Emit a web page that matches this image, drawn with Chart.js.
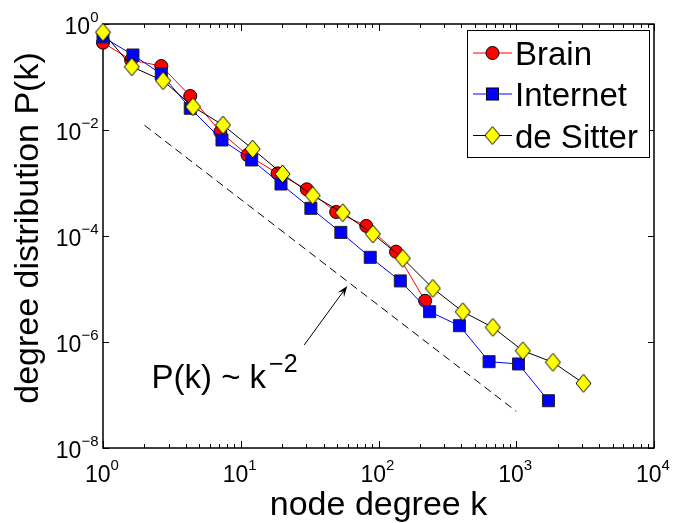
<!DOCTYPE html>
<html>
<head>
<meta charset="utf-8">
<script src="https://cdn.jsdelivr.net/npm/chart.js@4.4.0/dist/chart.umd.min.js"></script>
<style>
  html, body { margin: 0; padding: 0; background: #fff; }
  #wrap { width: 675px; height: 523px; }
</style>
</head>
<body>
<div id="wrap"><canvas id="chart"></canvas></div>
<script>
// log-binned degree k and P(k)
const brainK = [1, 1.60, 2.65, 4.30, 7.11, 11.2, 18.5, 30.2, 49.3, 81.5, 134, 218];
const brainP = [0.444, 0.209, 0.161, 0.0438, 0.00917, 0.00337, 0.00152, 7.6e-4, 2.84e-4, 1.55e-4, 5.06e-5, 6.0e-6];

const internetK = [1, 1.65, 2.65, 4.30, 7.31, 12.0, 19.6, 32.3, 53.3, 87.1, 144, 235, 387, 635, 1038, 1713];
const internetP = [0.568, 0.260, 0.114, 0.0257, 0.00648, 0.00272, 9.57e-4, 3.33e-4, 1.17e-4, 3.96e-5, 1.42e-5, 3.73e-6, 2.03e-6, 4.25e-7, 3.85e-7, 7.8e-8];

const sitterK = [1, 1.62, 2.73, 4.50, 7.43, 12.2, 20.1, 33.3, 55.0, 91.1, 150, 248, 409, 676, 1117, 1845, 3075];
const sitterP = [0.697, 0.156, 0.0851, 0.0275, 0.0124, 0.00438, 0.00148, 5.81e-4, 2.75e-4, 1.09e-4, 3.79e-5, 1.03e-5, 3.73e-6, 1.89e-6, 6.85e-7, 4.14e-7, 1.66e-7];

// guide line P(k) ~ k^-2
const guideK = [2, 1000];
const guideP = [0.0123, 4.92e-8];

// tick values and their exponents
const xTicks = [1, 10, 100, 1000, 10000];
const xTickExp = ['0', '1', '2', '3', '4'];
const yTicks = [1, 1e-2, 1e-4, 1e-6, 1e-8];
const yTickExp = ['0', '\u22122', '\u22124', '\u22126', '\u22128'];

// arrow (tail, tip) and label anchor, in data units
const arrowK = [28.9, 59.3];
const arrowP = [8.8e-7, 1.14e-5];
const noteK = 2.25;
const noteP = 1.36e-7;

const FONT = '"Liberation Sans", Arial, Helvetica, sans-serif';

function pts(ks, ps) {
    return ks.map((k, i) => ({ x: k, y: ps[i] }));
}

function makeDiamond(w, h) {
    const c = document.createElement('canvas');
    c.width = w + 2;
    c.height = h + 2;
    const g = c.getContext('2d');
    g.beginPath();
    g.moveTo(c.width / 2, 1);
    g.lineTo(c.width - 1, c.height / 2);
    g.lineTo(c.width / 2, c.height - 1);
    g.lineTo(1, c.height / 2);
    g.closePath();
    g.fillStyle = '#ffff00';
    g.fill();
    g.lineWidth = 1;
    g.strokeStyle = '#000';
    g.stroke();
    return c;
}
const diamond = makeDiamond(15, 18);

function line(ctx, x1, y1, x2, y2) {
    ctx.beginPath();
    ctx.moveTo(x1, y1);
    ctx.lineTo(x2, y2);
    ctx.stroke();
}

// base "10" with a superscript exponent; align: 'center' or 'right'
function powerLabel(ctx, exp, x, y, align) {
    ctx.font = '23px ' + FONT;
    const wb = ctx.measureText('10').width;
    ctx.font = '15px ' + FONT;
    const we = ctx.measureText(exp).width;
    const total = wb + we;
    const left = align === 'right' ? x - total : x - total / 2;
    ctx.textAlign = 'left';
    ctx.textBaseline = 'alphabetic';
    ctx.font = '23px ' + FONT;
    ctx.fillText('10', left, y);
    ctx.font = '15px ' + FONT;
    ctx.fillText(exp, left + wb, y - 12);
}

const axesPlugin = {
    id: 'matlabAxes',
    beforeDatasetsDraw(chart) {
        const { ctx, chartArea: a, scales: { x, y } } = chart;
        ctx.save();
        ctx.strokeStyle = '#000';
        ctx.lineWidth = 1;
        for (let d = 0; d < 4; d++) {
            for (let m = 2; m <= 9; m++) {
                const px = Math.round(x.getPixelForValue(m * Math.pow(10, d))) + 0.5;
                line(ctx, px, a.bottom, px, a.bottom - 4);
                line(ctx, px, a.top, px, a.top + 4);
            }
        }
        xTicks.forEach(v => {
            const px = Math.round(x.getPixelForValue(v)) + 0.5;
            line(ctx, px, a.bottom, px, a.bottom - 7);
            line(ctx, px, a.top, px, a.top + 7);
        });
        yTicks.forEach(v => {
            const py = Math.round(y.getPixelForValue(v)) + 0.5;
            line(ctx, a.left, py, a.left + 6, py);
            line(ctx, a.right, py, a.right - 6, py);
        });
        ctx.lineWidth = 1.5;
        ctx.strokeRect(a.left, a.top, a.right - a.left, a.bottom - a.top);
        ctx.restore();
    },
    afterDraw(chart) {
        const { ctx, chartArea: a, scales: { x, y } } = chart;
        ctx.save();
        ctx.fillStyle = '#000';
        ctx.strokeStyle = '#000';

        // tick labels
        xTicks.forEach((v, i) => powerLabel(ctx, xTickExp[i], x.getPixelForValue(v) - 1, a.bottom + 34, 'center'));
        yTicks.forEach((v, i) => powerLabel(ctx, yTickExp[i], a.left - 4.5, y.getPixelForValue(v) + 10, 'right'));

        // axis titles
        ctx.font = '34px ' + FONT;
        ctx.textAlign = 'center';
        ctx.textBaseline = 'alphabetic';
        ctx.fillText('node degree k', (a.left + a.right) / 2, 515);
        ctx.save();
        ctx.translate(38, 228);
        ctx.rotate(-Math.PI / 2);
        ctx.fillText('degree distribution P(k)', 0, 0);
        ctx.restore();

        // annotation text
        const nx = x.getPixelForValue(noteK);
        const ny = y.getPixelForValue(noteP);
        ctx.textAlign = 'left';
        ctx.font = '33px ' + FONT;
        const main = 'P(k) ~ k';
        ctx.fillText(main, nx, ny);
        const mw = ctx.measureText(main).width;
        ctx.font = '25px ' + FONT;
        ctx.fillText('\u22122', nx + mw + 3, ny - 16);

        // arrow
        const x0 = x.getPixelForValue(arrowK[0]), y0 = y.getPixelForValue(arrowP[0]);
        const x1 = x.getPixelForValue(arrowK[1]), y1 = y.getPixelForValue(arrowP[1]);
        const ang = Math.atan2(y1 - y0, x1 - x0);
        const hl = 11, hw = 4;
        ctx.lineWidth = 1;
        line(ctx, x0, y0, x1 - Math.cos(ang) * hl * 0.6, y1 - Math.sin(ang) * hl * 0.6);
        ctx.beginPath();
        ctx.moveTo(x1, y1);
        ctx.lineTo(x1 - Math.cos(ang) * hl - Math.sin(ang) * hw, y1 - Math.sin(ang) * hl + Math.cos(ang) * hw);
        ctx.lineTo(x1 - Math.cos(ang) * hl * 0.6, y1 - Math.sin(ang) * hl * 0.6);
        ctx.lineTo(x1 - Math.cos(ang) * hl + Math.sin(ang) * hw, y1 - Math.sin(ang) * hl - Math.cos(ang) * hw);
        ctx.closePath();
        ctx.fill();

        // legend box
        const bx = 467, by = 30, bw = 182, bh = 127;
        ctx.fillStyle = '#fff';
        ctx.fillRect(bx, by, bw, bh);
        ctx.lineWidth = 1;
        ctx.strokeStyle = '#000';
        ctx.strokeRect(bx + 0.5, by + 0.5, bw, bh);
        const baselines = [65, 106, 147.5];
        chart.data.datasets.slice(0, 3).forEach((ds, i) => {
            const cy = baselines[i] - 12;
            ctx.strokeStyle = ds.borderColor;
            ctx.lineWidth = 1;
            line(ctx, 473, cy, 512, cy);
            const mx = 492.5;
            if (ds.pointStyle === 'circle') {
                ctx.beginPath();
                ctx.arc(mx, cy, ds.pointRadius, 0, Math.PI * 2);
                ctx.fillStyle = ds.pointBackgroundColor;
                ctx.fill();
                ctx.strokeStyle = '#000';
                ctx.stroke();
            } else if (ds.pointStyle === 'rect') {
                const s = ds.pointRadius * Math.SQRT1_2;
                ctx.fillStyle = ds.pointBackgroundColor;
                ctx.fillRect(mx - s, cy - s, 2 * s, 2 * s);
                ctx.strokeStyle = '#000';
                ctx.strokeRect(mx - s, cy - s, 2 * s, 2 * s);
            } else {
                ctx.drawImage(ds.pointStyle, mx - ds.pointStyle.width / 2, cy - ds.pointStyle.height / 2);
            }
            ctx.fillStyle = '#000';
            ctx.font = '33px ' + FONT;
            ctx.textAlign = 'left';
            ctx.fillText(ds.label, 515, baselines[i]);
        });
        ctx.restore();
    }
};

new Chart(document.getElementById('chart'), {
    type: 'line',
    data: {
        datasets: [
            {
                label: 'Brain',
                data: pts(brainK, brainP),
                borderColor: '#ff0000',
                borderWidth: 1,
                pointStyle: 'circle',
                pointRadius: 6.5,
                pointBackgroundColor: '#ff0000',
                pointBorderColor: '#000',
                pointBorderWidth: 1,
                order: 3,
                clip: false
            },
            {
                label: 'Internet',
                data: pts(internetK, internetP),
                borderColor: '#0000ff',
                borderWidth: 1,
                pointStyle: 'rect',
                pointRadius: 8.5,
                pointBackgroundColor: '#0000ff',
                pointBorderColor: '#222',
                pointBorderWidth: 1,
                order: 2,
                clip: false
            },
            {
                label: 'de Sitter',
                data: pts(sitterK, sitterP),
                borderColor: '#000',
                borderWidth: 1,
                pointStyle: diamond,
                pointRadius: 9,
                order: 1,
                clip: false
            },
            {
                label: 'guide',
                data: pts(guideK, guideP),
                borderColor: '#000',
                borderWidth: 1,
                borderDash: [8, 5],
                pointRadius: 0,
                order: 4
            }
        ]
    },
    options: {
        responsive: true,
        maintainAspectRatio: false,
        animation: false,
        layout: { padding: { left: 103, right: 21, top: 24, bottom: 75 } },
        plugins: {
            legend: { display: false },
            tooltip: { enabled: false }
        },
        scales: {
            x: { type: 'logarithmic', min: 1, max: 10000, display: false },
            y: { type: 'logarithmic', min: 1e-8, max: 1, display: false }
        }
    },
    plugins: [axesPlugin]
});
</script>
</body>
</html>
